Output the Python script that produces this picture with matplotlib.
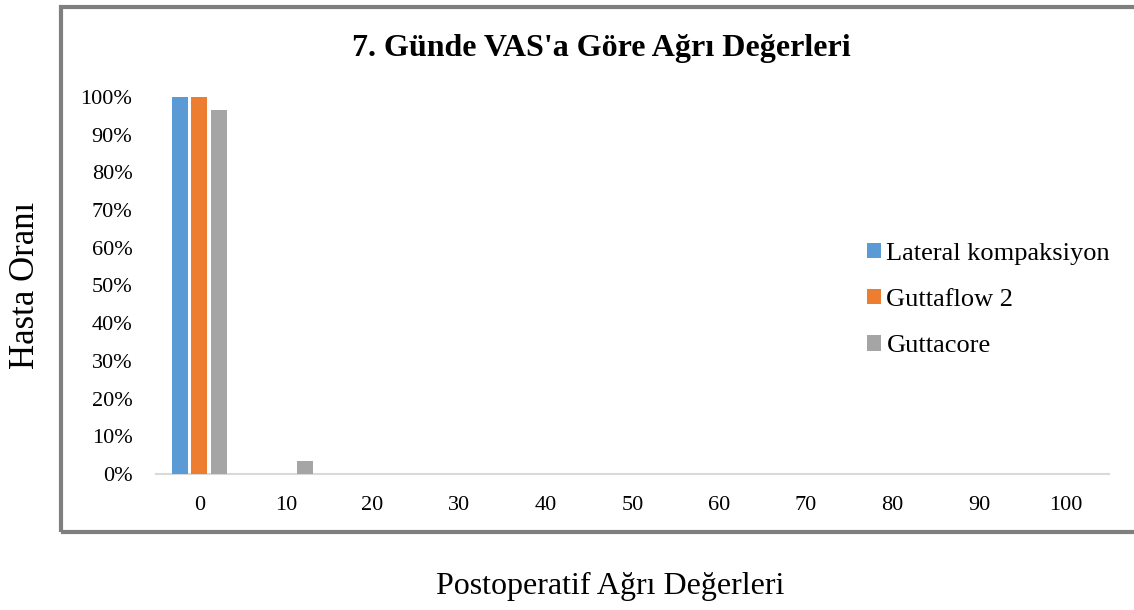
import numpy as np
import matplotlib.pyplot as plt
from matplotlib.patches import Rectangle

plt.rcParams.update({"font.family": "Liberation Serif"})

# data
categories = ["0", "10", "20", "30", "40", "50", "60", "70", "80", "90", "100"]
series_names = ["Lateral kompaksiyon", "Guttaflow 2", "Guttacore"]
lateral = [1.0, 0, 0, 0, 0, 0, 0, 0, 0, 0, 0]
guttaflow = [1.0, 0, 0, 0, 0, 0, 0, 0, 0, 0, 0]
guttacore = [0.9667, 0.0333, 0, 0, 0, 0, 0, 0, 0, 0, 0]
colors = ["#5b9bd5", "#ed7d31", "#a5a5a5"]

W, H = 1134, 610
fig = plt.figure(figsize=(W / 100, H / 100), dpi=100)

# outer chart frame (right side runs off the image)
frame = Rectangle((61 / W, 1 - 532 / H), 1.2, (532 - 7) / H, transform=fig.transFigure,
                  fill=False, edgecolor="#7f7f7f", linewidth=3, clip_on=False)
fig.patches.append(frame)

ax = fig.add_axes([156 / W, 1 - 474 / H, (1109 - 156) / W, (474 - 97) / H])
x = np.arange(len(categories))
bw = 0.185
offs = [-0.22, 0.0, 0.225]
for vals, name, c, o in zip([lateral, guttaflow, guttacore], series_names, colors, offs):
    ax.bar(x + o, vals, width=bw, color=c, label=name, zorder=3)

ax.set_xlim(-0.5, len(categories) - 0.5)
ax.set_ylim(0, 1)
ax.set_yticks(np.arange(0, 1.01, 0.1))
ax.set_yticklabels([f"{int(round(v * 100))}%" for v in np.arange(0, 1.01, 0.1)])
ax.set_xticks(x)
ax.set_xticklabels(categories)
ax.tick_params(length=0, labelsize=16, colors="black")
ax.tick_params(axis="x", pad=16)
ax.tick_params(axis="y", pad=17)
for s in ["top", "right", "left"]:
    ax.spines[s].set_visible(False)
ax.spines["bottom"].set_color("#d9d9d9")
ax.spines["bottom"].set_linewidth(1.5)
ax.set_facecolor("none")

fig.text(601 / W, 1 - 56 / H, "7. Günde VAS'a Göre Ağrı Değerleri", ha="center", va="baseline",
         fontsize=23, fontweight="bold")
fig.text(25 / W, 1 - 285 / H, "Hasta Oranı", ha="center", va="center", rotation=90, fontsize=25)
fig.text(610 / W, 1 - 586 / H, "Postoperatif Ağrı Değerleri", ha="center", va="center", fontsize=23)

ax.legend(loc="center left", bbox_to_anchor=(854 / W, 1 - 300 / H), bbox_transform=fig.transFigure,
          frameon=False, fontsize=19, handlelength=0.53, handleheight=0.53, handletextpad=0.2,
          labelspacing=0.92, borderpad=0)

fig.savefig("out.png", dpi=100)
